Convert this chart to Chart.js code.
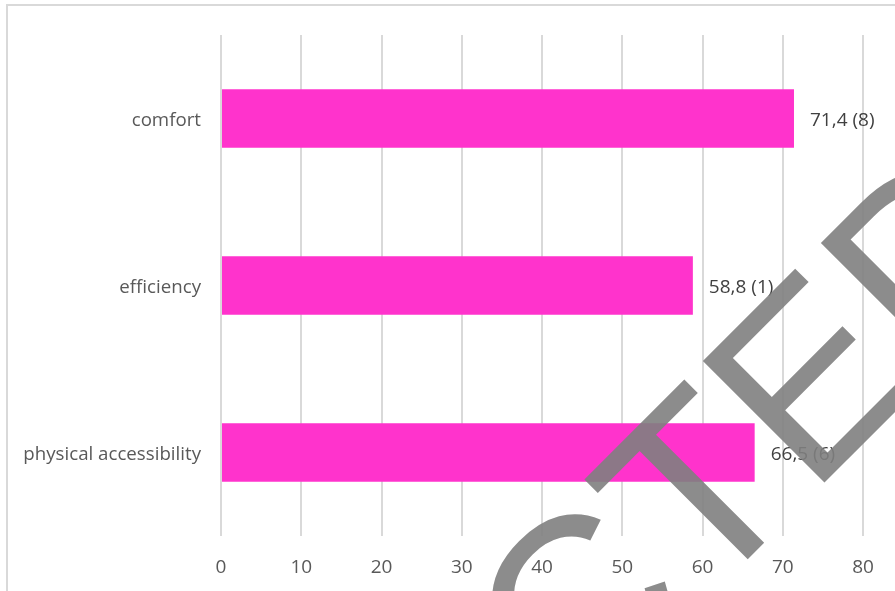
<!DOCTYPE html>
<html>
<head>
<meta charset="utf-8">
<script src="https://cdn.jsdelivr.net/npm/chart.js@4"></script>
<style>
  html, body { margin: 0; padding: 0; background: #fff; }
  #wrap { width: 895px; height: 591px; position: relative; }
</style>
</head>
<body>
<div id="wrap"><canvas id="barChart" width="895" height="591"></canvas></div>
<script>
// chart values
const categories = ['comfort', 'efficiency', 'physical accessibility'];
const scores = [71.4, 58.8, 66.5];
const counts = [8, 1, 6];
const xTicks = [0, 10, 20, 30, 40, 50, 60, 70, 80];
const watermarkText = 'PROTECTED';

const labelFont = '"Open Sans", "Noto Sans", sans-serif';

// light grey frame of the chart object (cropped on right/bottom)
const framePlugin = {
    id: 'frame',
    beforeDraw(chart) {
        const ctx = chart.ctx;
        ctx.save();
        ctx.strokeStyle = '#d9d9d9';
        ctx.lineWidth = 2;
        ctx.strokeRect(7, 5, 1000, 1000);
        ctx.restore();
    }
};

// "71,4 (8)" style labels at the end of each bar
const valueLabels = {
    id: 'valueLabels',
    afterDatasetsDraw(chart) {
        const ctx = chart.ctx;
        const meta = chart.getDatasetMeta(0);
        ctx.save();
        ctx.fillStyle = '#404040';
        ctx.font = '19px ' + labelFont;
        ctx.textAlign = 'left';
        ctx.textBaseline = 'middle';
        meta.data.forEach((bar, i) => {
            const txt = scores[i].toFixed(1).replace('.', ',') + ' (' + counts[i] + ')';
            ctx.fillText(txt, bar.x + 16, bar.y + 2);
        });
        ctx.restore();
    }
};

// big diagonal stamp drawn over everything
const watermark = {
    id: 'watermark',
    afterDraw(chart) {
        const ctx = chart.ctx;
        ctx.save();
        ctx.font = '250px "Liberation Sans", Arial, sans-serif';
        ctx.fillStyle = 'rgba(128,128,128,0.9)';
        ctx.textBaseline = 'alphabetic';
        ctx.translate(810, 497);
        ctx.rotate(-Math.PI / 4);
        const prefix = watermarkText.slice(0, watermarkText.length - 2);
        ctx.fillText(watermarkText, -ctx.measureText(prefix).width, 0);
        ctx.restore();
    }
};

const ctx = document.getElementById('barChart').getContext('2d');

new Chart(ctx, {
    type: 'bar',
    data: {
        labels: categories,
        datasets: [{
            data: scores,
            backgroundColor: '#ff33cc',
            borderWidth: 0,
            categoryPercentage: 1,
            barPercentage: 0.35
        }]
    },
    options: {
        indexAxis: 'y',
        responsive: false,
        animation: false,
        layout: {
            padding: { top: 35, right: 32, bottom: 0, left: 0 }
        },
        plugins: {
            legend: { display: false },
            tooltip: { enabled: false }
        },
        scales: {
            x: {
                min: 0,
                max: 80,
                afterBuildTicks(scale) {
                    scale.ticks = xTicks.map(v => ({ value: v }));
                },
                afterFit(scale) { scale.height = 55; },
                grid: { color: '#d9d9d9', lineWidth: 2, drawTicks: false },
                border: { display: false },
                ticks: {
                    padding: 20,
                    color: '#595959',
                    font: { family: labelFont, size: 19 }
                }
            },
            y: {
                afterFit(scale) { scale.width = 221; },
                grid: { display: false, drawTicks: false },
                border: { display: false },
                ticks: {
                    padding: 20,
                    labelOffset: 2,
                    color: '#595959',
                    font: { family: labelFont, size: 18.7 }
                }
            }
        }
    },
    plugins: [framePlugin, valueLabels, watermark]
});
</script>
</body>
</html>
